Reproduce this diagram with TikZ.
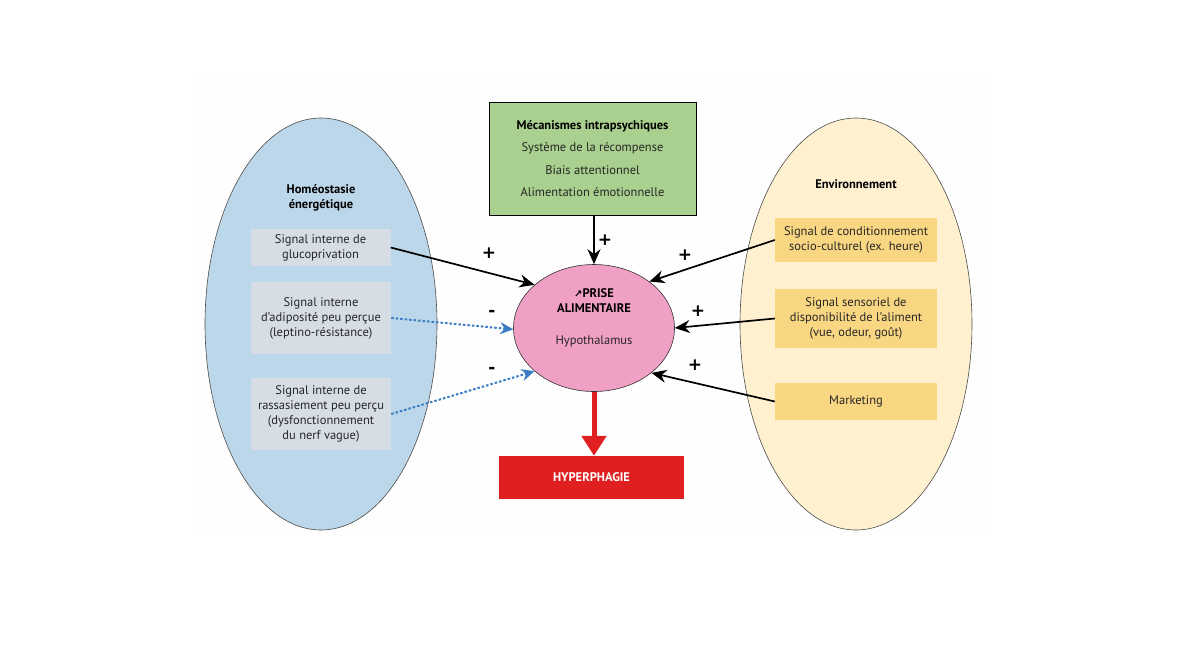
\documentclass[tikz,border=0pt]{standalone}
\usepackage{fontspec}
\setmainfont{PT Sans}
\newfontfamily\flechefont{DejaVu Sans}
\usetikzlibrary{shapes.geometric,arrows.meta}

\definecolor{bleuzone}{HTML}{BDD7EA}
\definecolor{grisboite}{HTML}{D6DDE5}
\definecolor{jaunezone}{HTML}{FFF1D0}
\definecolor{jauneboite}{HTML}{F9D682}
\definecolor{vertboite}{HTML}{A9D08E}
\definecolor{roseprise}{HTML}{F0A0C4}
\definecolor{rougehyper}{HTML}{E02020}
\definecolor{bleupointe}{HTML}{3A7CC6}

\begin{document}
\begin{tikzpicture}[x=1pt,y=-1pt,
  every node/.style={font=\fontsize{12.5}{15}\selectfont, text=black!85, align=center, inner sep=0pt},
  zone/.style={ellipse, draw=black!70, line width=0.6pt, minimum width=232, minimum height=412},
  sigbleu/.style={fill=grisboite, minimum width=140},
  sigjaune/.style={fill=jauneboite, minimum width=162},
  titre/.style={font=\fontsize{12.5}{15}\selectfont\bfseries, text=black},
  signe/.style={font=\flechefont\bfseries\fontsize{17}{17}\selectfont, text=black},
  pousse/.style={line width=1.7pt, -{Stealth[length=15pt,width=13pt]}},
  freine/.style={bleupointe, line width=2pt, dash pattern=on 2.5pt off 2pt, -{Stealth[length=13pt,width=12pt]}}]
\useasboundingbox (0,0) rectangle (1186,659);
\fill [black!0.5] (192,73) rectangle (988,533);

\node [zone, fill=bleuzone] (homeo) at (321,324) {};
\node [zone, fill=jaunezone] (envir) at (856,324) {};
\node [titre] (homeotitre) at (321,197.5) {Homéostasie\\énergétique};
\node [titre] (envirtitre) at (856,184) {Environnement};

\node [sigbleu, minimum height=37] (gluco) at (320.5,247.5) {Signal interne de\\glucoprivation};
\node [sigbleu, minimum height=72] (adipo) at (321,318) {Signal interne\\d’adiposité peu perçue\\(leptino-résistance)};
\node [sigbleu, minimum height=72] (rassa) at (321,414) {Signal interne de\\rassasiement peu perçu\\(dysfonctionnement\\du nerf vague)};

\node [sigjaune, minimum height=44] (socio) at (856,240) {Signal de conditionnement\\socio-culturel (ex. heure)};
\node [sigjaune, minimum height=59] (senso) at (856,318.5) {Signal sensoriel de\\disponibilité de l’aliment\\(vue, odeur, goût)};
\node [sigjaune, minimum height=37] (marke) at (856,401.5) {Marketing};

\node [draw=black, line width=0.8pt, fill=vertboite, minimum width=207, minimum height=113, font=\fontsize{12.5}{22.5}\selectfont] (psy) at (592.5,158.5)
  {\textbf{\textcolor{black}{Mécanismes intrapsychiques}}\\Système de la récompense\\Biais attentionnel\\Alimentation émotionnelle};

\node [ellipse, draw=black!80, line width=0.6pt, fill=roseprise, minimum width=161, minimum height=127] (prise) at (594,328) {};
\node [align=center] (prisetxt) at (594,318) {\textbf{\textcolor{black}{{\flechefont\fontsize{10}{10}\selectfont ↗}PRISE}}\\\textbf{\textcolor{black}{ALIMENTAIRE}}\\[17pt]Hypothalamus};

\node [fill=rougehyper, minimum width=185, minimum height=43, font=\fontsize{12.5}{15}\selectfont\bfseries, text=white] (hyper) at (591.5,477.5) {HYPERPHAGIE};

\draw [pousse] (gluco.east) -- (prise.144);
\draw [freine] (adipo.east) -- (prise.181);
\draw [freine] (rassa.east) -- (prise.216);
\draw [pousse] (prise.north |- psy.south) -- (prise.north);
\draw [pousse] (socio.west) -- (prise.40);
\draw [pousse] (senso.west) -- (prise.0);
\draw [pousse] (marke.west) -- (prise.322);
\draw [rougehyper, line width=5pt, -{Triangle[length=20pt,width=24pt]}] (prise.south) -- (prise.south |- hyper.north);

\node [signe] (plusgluco) at (489,253) {+};
\node [signe] (moinsadipo) at (492,313) {-};
\node [signe] (moinsrassa) at (492,370) {-};
\node [signe] (pluspsy) at (605,240) {+};
\node [signe] (plussocio) at (685,255) {+};
\node [signe] (plussenso) at (698,311) {+};
\node [signe] (plusmarke) at (695,365) {+};
\end{tikzpicture}
\end{document}
